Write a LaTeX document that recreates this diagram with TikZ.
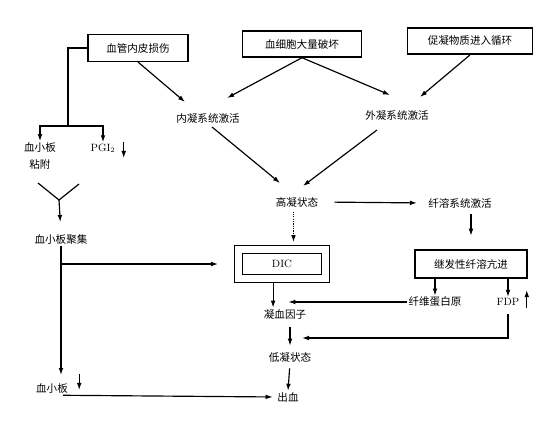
\documentclass[tikz,border=0pt]{standalone}
\usepackage{fontspec}
\newfontfamily\cjk{Noto Sans CJK SC}
\usetikzlibrary{arrows.meta,calc}

\begin{document}
\begin{tikzpicture}[x=0.03cm,y=-0.03cm,
  cause/.style={draw,line width=1.2pt,minimum width=#1,minimum height=0.8cm,
    font=\cjk\fontsize{9}{11}\selectfont},
  lbl/.style={font=\cjk\fontsize{9}{11}\selectfont,inner sep=1pt},
  lat/.style={font=\fontsize{9}{11}\selectfont,inner sep=1pt},
  arr/.style={-{Latex[length=6pt,width=4pt]},line width=1pt},
  dbl/.style={draw,double,line width=1pt,double distance=0.21cm,
    minimum width=2.6cm,minimum height=0.88cm,font=\fontsize{9}{11}\selectfont},
]
  \useasboundingbox (0,0) rectangle (549,421);

  % causes
  \node[cause=3cm] (vasc) at (138,48) {血管内皮损伤};
  \node[cause=3.57cm,minimum height=0.78cm] (cells) at (302,44) {血细胞大量破坏};
  \node[cause=3.75cm,minimum height=0.78cm,line width=1.6pt] (procoag) at (470,41) {促凝物质进入循环};

  \node[lbl] (intr) at (208,118) {内凝系统激活};
  \node[lbl] (extr) at (397,115) {外凝系统激活};
  \node[lbl] (hyper) at (297,202) {高凝状态};
  \node[lbl] (fibact) at (460,203) {纤溶系统激活};

  % platelet side
  \node[lbl,align=center,font=\cjk\fontsize{9}{14.5}\selectfont] (adh) at (40,156) {血小板\\粘附};
  \node[lat] (pgi) at (103,148) {PGI$_2$};
  \node[lbl] (agg) at (61,240) {血小板聚集};
  \node[lbl] (plt) at (52,388) {血小板};

  \node[dbl] (dic) at (282,264) {DIC};
  \node[cause=3.36cm,minimum height=0.84cm,line width=1.6pt] (sec) at (471,264) {继发性纤溶亢进};
  \node[lbl] (clot) at (285,314) {凝血因子};
  \node[lbl] (fbg) at (435,302) {纤维蛋白原};
  \node[lat] (fdp) at (508,302) {FDP};
  \node[lbl] (low) at (290,357) {低凝状态};
  \node[lbl] (bleed) at (288,397) {出血};

  \coordinate (split) at (68,126);
  \coordinate (yl) at (38,183);
  \coordinate (yr) at (79,184);
  \coordinate (yjoin) at (59,200);
  \coordinate (join) at (302,338);

  % top arrows
  \draw[arr] (vasc.south) -- ($(intr)+(-23,-16)$);
  \draw[arr] (cells.south) -- ($(intr)+(19,-20)$);
  \draw[arr] (cells.south) -- ($(extr)+(-7,-20)$);
  \draw[arr] (procoag.south) -- ($(extr)+(23,-18)$);
  \draw[arr] ($(intr)+(4,9)$) -- ($(hyper)+(-17,-19)$);
  \draw[arr] ($(extr)+(-20,15)$) -- ($(hyper)+(6,-16)$);

  \draw[line width=1pt] (vasc.west) -| (split);
  \draw[arr] (split) -| (adh.north);
  \draw[arr] (split) -| (pgi.north);
  \draw[arr] ($(pgi.east)+(7,-6)$) -- ++(0,16);

  \draw[line width=1pt] (yl) -- (yjoin) -- (yr);
  \draw[arr,shorten >=3.5mm] (yjoin) -- (agg.north);
  \draw[arr,shorten >=2mm] (agg.south) -- (agg.south |- plt.north);
  \draw[arr,shorten >=6mm] (agg.south |- dic.west) -- (dic.west);
  \draw[arr] ($(plt.east)+(10,-14)$) -- ++(0,16);
  \draw[arr,shorten >=1mm] ($(plt.south)+(11,1)$) -- (bleed.west);

  \draw[arr,shorten <=4.5mm,shorten >=3mm] (hyper.east) -- (fibact.west);
  \draw[arr,shorten <=1.5mm,shorten >=4mm] (sec.north |- fibact.south) -- (sec.north);
  \draw[arr,densely dotted,shorten <=1mm,shorten >=2mm] ([xshift=-3pt]hyper.south) -- ([xshift=-3pt]hyper.south |- dic.north);

  \draw[arr,shorten <=1mm] ([xshift=-7.6pt]dic.south) -- ([xshift=-7.6pt]dic.south |- clot.north);
  \draw[arr,shorten >=1mm] (fbg.west) -- (fbg.west -| clot.north);
  \draw[arr] (sec.south -| fbg.north) -- (fbg.north);
  \draw[arr] (sec.south -| fdp.north) -- (fdp.north);
  \draw[arr] ($(fdp.east)+(6,6)$) -- ++(0,-18);
  \draw[arr,shorten <=2mm] (fdp.south) |- (join);

  \draw[arr,shorten <=2mm,shorten >=1.5mm] (low.north |- clot.south) -- (low.north);
  \draw[arr,shorten <=1.5mm] (low.south) -- (bleed.north);
\end{tikzpicture}
\end{document}
